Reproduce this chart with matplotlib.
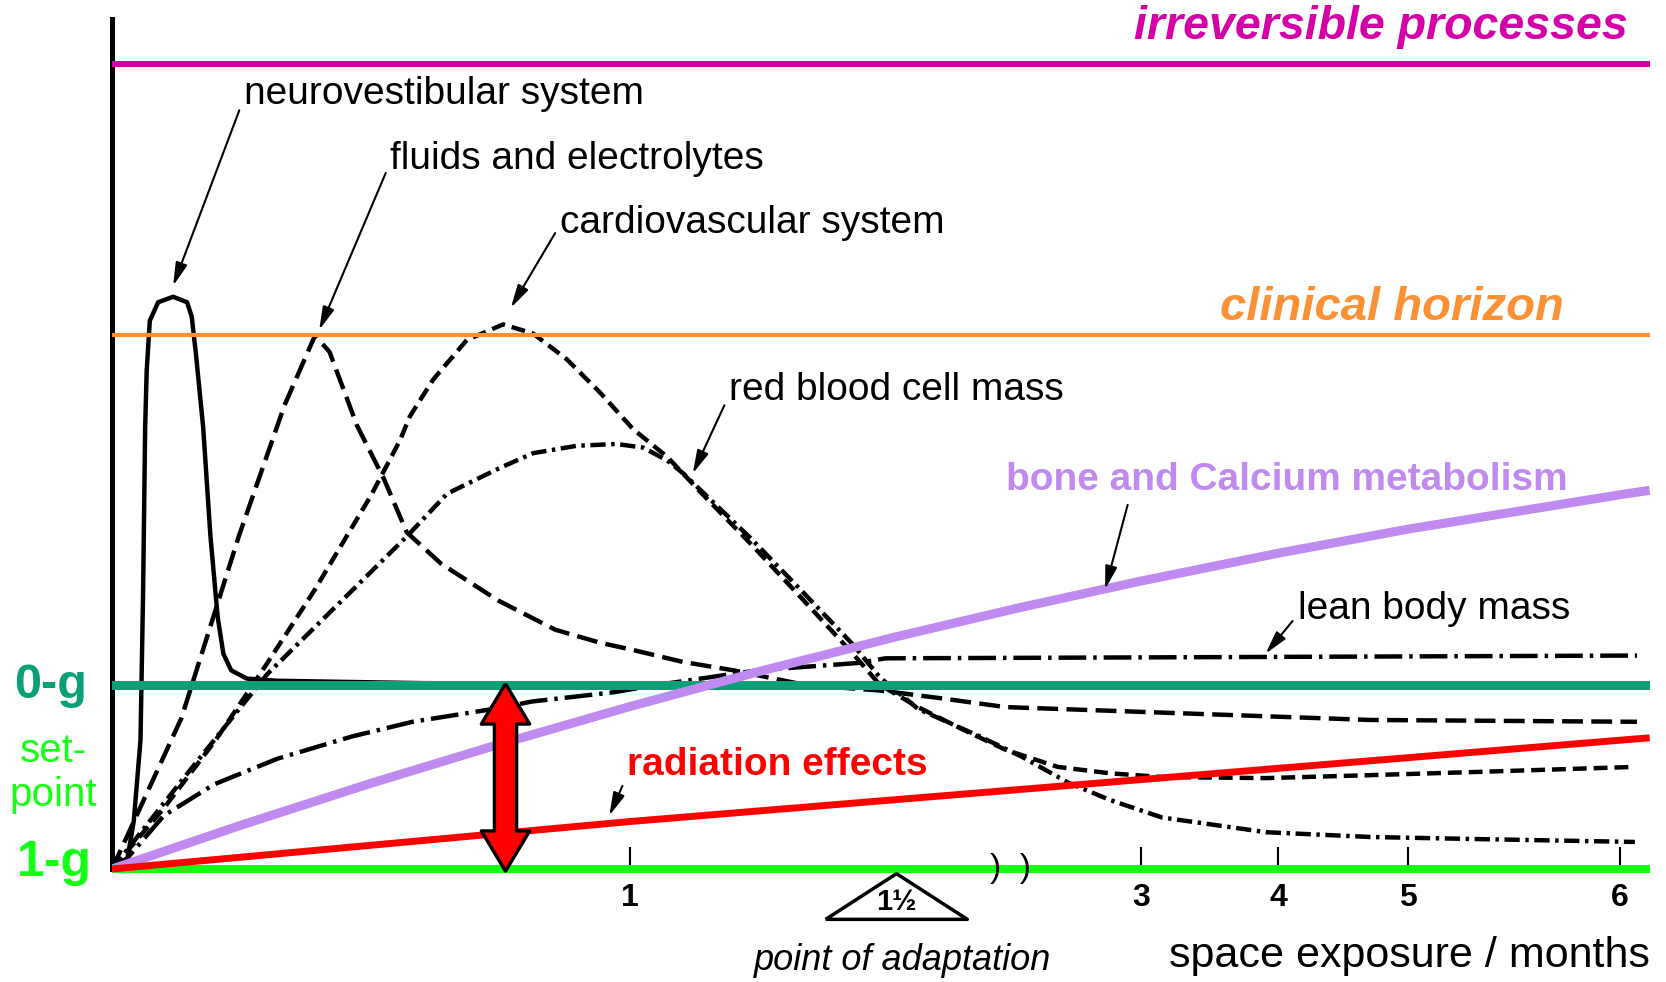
import numpy as np
import matplotlib
matplotlib.use('Agg')
import matplotlib.pyplot as plt

plt.rcParams['font.family'] = ['Liberation Sans', 'DejaVu Sans']
plt.rcParams['lines.scale_dashes'] = False

# --- time axis: broken month axis (months -> position along the axis, px of the figure)
month_knots = [0, 1, 1.5, 3, 4, 5, 6, 6.165]
axis_pos = [112, 630, 896, 1141, 1278, 1408, 1620, 1655]
month_ticks = [1, 3, 4, 5, 6]
month_labels = ['1', '3', '4', '5', '6']
adaptation_month = 1.5

# --- levels (deviation from the 1-g set point, 0-g = 1)
level_1g = 0.0
level_0g = 1.0
level_clinical = 2.90
level_irreversible = 4.375

# --- curves (months, deviation)
neuro_m = [0, 0.03, 0.042, 0.055, 0.060, 0.064, 0.067, 0.073, 0.089, 0.118, 0.145,
           0.154, 0.162, 0.176, 0.19, 0.204, 0.215, 0.23, 0.26, 0.318, 0.6, 1.4]
neuro_y = [0, 0.06, 0.26, 0.70, 1.5, 2.40, 2.71, 2.98, 3.08, 3.11, 3.08,
           3.0, 2.80, 2.40, 1.81, 1.37, 1.17, 1.08, 1.035, 1.023, 1.01, 1.0]

fluid_m = [0, 0.134, 0.245, 0.333, 0.392, 0.42, 0.473, 0.525, 0.569, 0.635, 0.745,
           0.856, 0.942, 1.006, 1.10, 1.194, 1.33, 1.47, 1.757, 2.17, 4.71, 6.08]
fluid_y = [0, 0.82, 1.81, 2.52, 2.90, 2.81, 2.41, 2.12, 1.83, 1.66, 1.46,
           1.30, 1.23, 1.19, 1.125, 1.08, 1.0, 0.97, 0.93, 0.88, 0.81, 0.80]

cardio_m = [0, 0.10, 0.20, 0.30, 0.392, 0.50, 0.556, 0.575, 0.62, 0.685, 0.755,
            0.813, 0.878, 0.942, 1.006, 1.07, 1.132, 1.226, 1.32, 1.419, 1.47, 1.635,
            1.916, 2.173, 2.49, 2.81, 3.153, 3.912, 4.708, 5.311, 6.07]
cardio_y = [0, 0.33, 0.70, 1.12, 1.52, 2.03, 2.33, 2.46, 2.66, 2.875, 2.96,
            2.91, 2.77, 2.59, 2.39, 2.24, 2.05, 1.77, 1.48, 1.17, 1.0, 0.88,
            0.755, 0.647, 0.555, 0.52, 0.50, 0.494, 0.51, 0.527, 0.555]

rbc_m = [0, 0.14, 0.30, 0.473, 0.57, 0.647, 0.749, 0.813, 0.897, 0.974, 1.025, 1.07,
         1.10, 1.226, 1.32, 1.419, 1.47, 1.635, 2.014, 2.271, 2.553, 2.81, 3.153,
         3.533, 3.912, 4.708, 5.311, 6.07]
rbc_y = [0, 0.50, 1.06, 1.54, 1.81, 2.04, 2.18, 2.26, 2.30, 2.31, 2.29, 2.22,
         2.15, 1.80, 1.52, 1.22, 1.04, 0.87, 0.72, 0.61, 0.47, 0.375, 0.28,
         0.24, 0.20, 0.174, 0.163, 0.147]

lean_m = [0, 0.029, 0.10, 0.197, 0.32, 0.463, 0.58, 0.759, 0.81, 0.967, 1.05,
          1.24, 1.43, 1.48, 3.0, 6.08]
lean_y = [0, 0.057, 0.29, 0.46, 0.60, 0.72, 0.80, 0.88, 0.91, 0.96, 1.0,
          1.08, 1.12, 1.145, 1.15, 1.16]

bone_m = [0, 0.25, 0.5, 0.75, 1, 1.25, 1.5, 2.25, 3, 4, 5, 6, 6.14]
bone_y = [0, 0.239, 0.466, 0.680, 0.883, 1.079, 1.262, 1.419, 1.565, 1.716, 1.847,
          2.034, 2.058]

rad_m = [0, 1, 1.5, 3, 4, 5, 6, 6.14]
rad_y = [0, 0.258, 0.377, 0.486, 0.547, 0.605, 0.70, 0.713]

# colours
MAGENTA = '#d400a8'
ORANGE = '#fc9035'
TEAL = '#09a077'
GREEN = '#14ff14'
LAVENDER = '#c08af0'
RED = '#ff0000'


def fwd(m):
    return np.interp(m, month_knots, axis_pos)


def inv(p):
    return np.interp(p, axis_pos, month_knots)


fig = plt.figure(figsize=(16.66, 9.82), dpi=100)
ax = fig.add_axes([112 / 1666, 0, (1650 - 112) / 1666, 1])
ax.set_xscale('function', functions=(fwd, inv))
ax.set_xlim(0, inv(1650))
ax.set_ylim(-113 / 184, 869 / 184)

for s in ['top', 'right']:
    ax.spines[s].set_visible(False)
ax.spines['left'].set_bounds(0, 4.62)
ax.spines['left'].set_linewidth(3.6)
ax.spines['bottom'].set_position(('data', 0))
ax.spines['bottom'].set_color('none')
ax.set_yticks([])
ax.set_xticks(month_ticks)
ax.set_xticklabels(month_labels, fontweight='bold')
ax.tick_params(axis='x', direction='in', length=16, width=1.5, pad=10, labelsize=23)
ax.set_facecolor('none')

# reference levels
ax.axhline(level_irreversible, color=MAGENTA, lw=4.3, zorder=3)
ax.axhline(level_clinical, color=ORANGE, lw=3.0, zorder=3)
ax.axhline(level_0g, color=TEAL, lw=6.5, zorder=4)
ax.axhline(level_1g, color=GREEN, lw=5.8, zorder=4)

# physiological curves
lw = 3.2
ax.plot(neuro_m, neuro_y, color='black', lw=lw, solid_joinstyle='round', zorder=2)
ax.plot(fluid_m, fluid_y, color='black', lw=lw, ls=(0, (15, 6)), zorder=2)
ax.plot(cardio_m, cardio_y, color='black', lw=lw, ls=(0, (10, 5)), zorder=2)
ax.plot(rbc_m, rbc_y, color='black', lw=lw, ls=(0, (11, 4, 2.5, 4)), zorder=2)
ax.plot(lean_m, lean_y, color='black', lw=lw, ls=(0, (20, 5, 2.5, 5)), zorder=2)
ax.plot(bone_m, bone_y, color=LAVENDER, lw=6.5, solid_capstyle='butt', zorder=5)
ax.plot(rad_m, rad_y, color=RED, lw=5.0, solid_capstyle='butt', zorder=5)

# double arrow between 1-g and 0-g
dbl = [(0, 93), (24, 53), (11, 53), (11, -53), (24, -53), (0, -93),
       (-24, -53), (-11, -53), (-11, 53), (-24, 53), (0, 93)]
ax.plot([0.759], [(level_0g + level_1g) / 2], marker=dbl, markersize=135,
        mfc=RED, mec='black', mew=2.4, zorder=7)

# point of adaptation triangle
tri = [(-1.55, -0.5), (1.55, -0.5), (0, 0.5), (-1.55, -0.5)]
ax.plot([adaptation_month], [-0.145], marker=tri, markersize=102,
        mfc='white', mec='black', mew=2.5, zorder=6, clip_on=False)
ax.text(adaptation_month + 0.005, -0.18, '1½', ha='center', va='center', fontsize=21,
        fontweight='bold', zorder=7)
ax.text(1.543, -0.50, 'point of adaptation', ha='center', va='center',
        fontsize=26, style='italic')
ax.text(3.204, -0.473, 'space exposure / months', ha='left', va='center', fontsize=31)
ax.text(2.204, 0.0, ')  )', ha='center', va='center', fontsize=24, zorder=6)

# level labels
ax.text(6.038, 4.576, 'irreversible processes', ha='right', va='center', color=MAGENTA,
        fontsize=33.5, fontweight='bold', style='italic')
ax.text(5.736, 3.049, 'clinical horizon', ha='right', va='center', color=ORANGE,
        fontsize=34, fontweight='bold', style='italic')

yt = ax.get_yaxis_transform()
ax.text(-0.0397, level_0g, '0-g', transform=yt, ha='center', va='center', color=TEAL,
        fontsize=35, fontweight='bold', clip_on=False)
ax.text(-0.0384, 0.52, 'set-\npoint', transform=yt, ha='center', va='center', color=GREEN,
        fontsize=29, clip_on=False)
ax.text(-0.0375, 0.03, '1-g', transform=yt, ha='center', va='center', color=GREEN,
        fontsize=36, fontweight='bold', clip_on=False)

# curve labels with arrows
arrow_kw = dict(arrowstyle='-|>,head_length=0.7,head_width=0.18', color='black',
                lw=1.5, shrinkA=3, shrinkB=0, mutation_scale=20)


def label(text, tip, at, relpos, **kw):
    ax.annotate(text, xy=tip, xytext=at, ha='left', va='center', zorder=8,
                arrowprops=dict(arrow_kw, relpos=relpos), **kw)


label('neurovestibular system', (0.118, 3.17), (0.254, 4.214), (0, 0.35), fontsize=28)
label('fluids and electrolytes', (0.40, 2.93), (0.537, 3.859), (0, 0.4), fontsize=28)
label('cardiovascular system', (0.77, 3.05), (0.865, 3.511), (0, 0.45), fontsize=28)
label('red blood cell mass', (1.118, 2.15), (1.186, 2.603), (0, 0.35), fontsize=28)
label('lean body mass', (3.91, 1.17), (4.154, 1.413), (0, 0.35), fontsize=28)
label('bone and Calcium metabolism', (2.78, 1.52), (2.173, 2.114), (0.22, 0.0),
      fontsize=28, fontweight='bold', color=LAVENDER)
label('radiation effects', (0.96, 0.29), (0.994, 0.565), (0, 0.2),
      fontsize=28, fontweight='bold', color=RED)

fig.savefig('out.png', dpi=100)
